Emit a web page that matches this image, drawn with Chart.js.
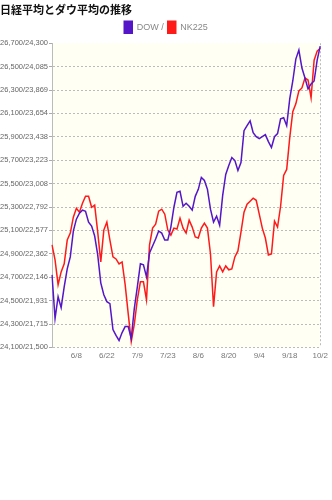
<!DOCTYPE html>
<html>
<head>
<meta charset="utf-8">
<script src="https://cdn.jsdelivr.net/npm/chart.js@4/dist/chart.umd.min.js"></script>
<style>
  body { margin: 0; background: #fff; }
  #wrap { position: relative; width: 332px; height: 365px; }
</style>
</head>
<body>
<div id="wrap"><canvas id="chart"></canvas></div>
<script>
// x軸ラベル（10営業日おき）
const xTickLabels = ['6/8', '6/22', '7/9', '7/23', '8/6', '8/20', '9/4', '9/18', '10/2'];
const firstTickIndex = 8;
const tickStep = 10;
const pointCount = 89;

// 左軸ラベル用：日経平均の目盛（下から）
const nkTicks = [21500, 21715, 21931, 22146, 22362, 22577, 22792, 23008, 23223, 23438, 23654, 23869, 24085, 24300];

// ダウ平均
const dowValues = [
  24720, 24346, 24533, 24440, 24618, 24771, 24873, 25094, 25196, 25247,
  25273, 25264, 25171, 25137, 25052, 24890, 24652, 24550, 24491, 24474,
  24253, 24202, 24159, 24227, 24278, 24278, 24176, 24431, 24618, 24814,
  24805, 24703, 24907, 24967, 25026, 25094, 25077, 25018, 25018, 25128,
  25298, 25425, 25434, 25306, 25332, 25306, 25273, 25391, 25451, 25553,
  25527, 25451, 25281, 25171, 25222, 25145, 25400, 25578, 25655, 25723,
  25697, 25612, 25680, 25952, 25995, 26037, 25935, 25901, 25884, 25901,
  25918, 25859, 25808, 25901, 25927, 26054, 26063, 25995, 26224, 26377,
  26564, 26641, 26488, 26403, 26309, 26352, 26377, 26556, 26675
];

// 日経平均
const nkValues = [
  22443, 22305, 22077, 22195, 22269, 22488, 22552, 22699, 22781, 22744,
  22827, 22891, 22891, 22790, 22809, 22561, 22287, 22580, 22653, 22488,
  22333, 22314, 22269, 22287, 22077, 21811, 21555, 21711, 21939, 22104,
  22104, 21939, 22443, 22598, 22635, 22754, 22772, 22726, 22580, 22534,
  22598, 22589, 22690, 22598, 22552, 22671, 22607, 22516, 22507, 22598,
  22644, 22598, 22360, 21875, 22195, 22250, 22195, 22250, 22214, 22223,
  22333, 22388, 22561, 22744, 22818, 22845, 22873, 22854, 22726, 22598,
  22507, 22351, 22360, 22662, 22607, 22799, 23083, 23138, 23431, 23669,
  23742, 23861, 23888, 23980, 23961, 23797, 24144, 24227, 24254
];

const labels = [];
for (let i = 0; i < pointCount; i++) {
  const k = (i - firstTickIndex) / tickStep;
  labels.push(Number.isInteger(k) && k >= 0 && k < xTickLabels.length ? xTickLabels[k] : '');
}

const plotBg = {
  id: 'plotBg',
  beforeDraw(chart) {
    const {ctx, chartArea: a} = chart;
    ctx.save();
    ctx.fillStyle = '#fffff3';
    ctx.fillRect(a.left, a.top, a.right - a.left, a.bottom - a.top);
    ctx.restore();
  }
};

const purple = '#5416c8';
const red = '#ff1a1a';

new Chart(document.getElementById('chart'), {
  type: 'line',
  data: {
    labels: labels,
    datasets: [
      { label: 'DOW /', data: dowValues, yAxisID: 'y', borderColor: purple, backgroundColor: purple, borderWidth: 1.5, pointRadius: 0, tension: 0 },
      { label: 'NK225', data: nkValues, yAxisID: 'y2', borderColor: red, backgroundColor: red, borderWidth: 1.5, pointRadius: 0, tension: 0 }
    ]
  },
  options: {
    responsive: true,
    maintainAspectRatio: false,
    animation: false,
    layout: { padding: { left: 0, right: 0, top: 0, bottom: 0 } },
    plugins: {
      title: {
        display: true, text: '日経平均とダウ平均の推移', align: 'start', color: '#111',
        font: { family: "'Noto Sans CJK JP', sans-serif", size: 11, weight: 'bold' },
        padding: { top: 3, bottom: 1 }
      },
      legend: {
        position: 'top',
        labels: { boxWidth: 8, boxHeight: 12, color: '#888', padding: 4, font: { family: 'Liberation Sans, Arial', size: 9 } }
      },
      tooltip: { enabled: false }
    },
    scales: {
      x: {
        ticks: {
          autoSkip: false, maxRotation: 0, minRotation: 0, color: '#777', padding: 4,
          font: { family: 'Liberation Sans, Arial', size: 8 },
          callback: (v, i) => labels[i]
        },
        grid: { drawTicks: false, lineWidth: 1, color: c => c.index === pointCount - 1 ? '#bbb' : 'rgba(0,0,0,0)' },
        border: { display: false, dash: [2, 2] }
      },
      y: {
        min: 24100, max: 26700,
        afterFit: s => { s.width = 52; },
        ticks: {
          stepSize: 200, color: '#666', padding: 1,
          font: { family: 'Liberation Sans, Arial', size: 7.5 },
          callback: (v, i) => v.toLocaleString('en-US') + '/' + nkTicks[i].toLocaleString('en-US')
        },
        grid: { tickLength: 3, tickColor: '#aaa', color: c => c.tick && c.tick.value === 26700 ? 'rgba(0,0,0,0)' : '#bbb' },
        border: { color: '#bbb', dash: [2, 2] }
      },
      y2: { display: false, min: 21500, max: 24300 }
    }
  },
  plugins: [plotBg]
});
</script>
</body>
</html>
